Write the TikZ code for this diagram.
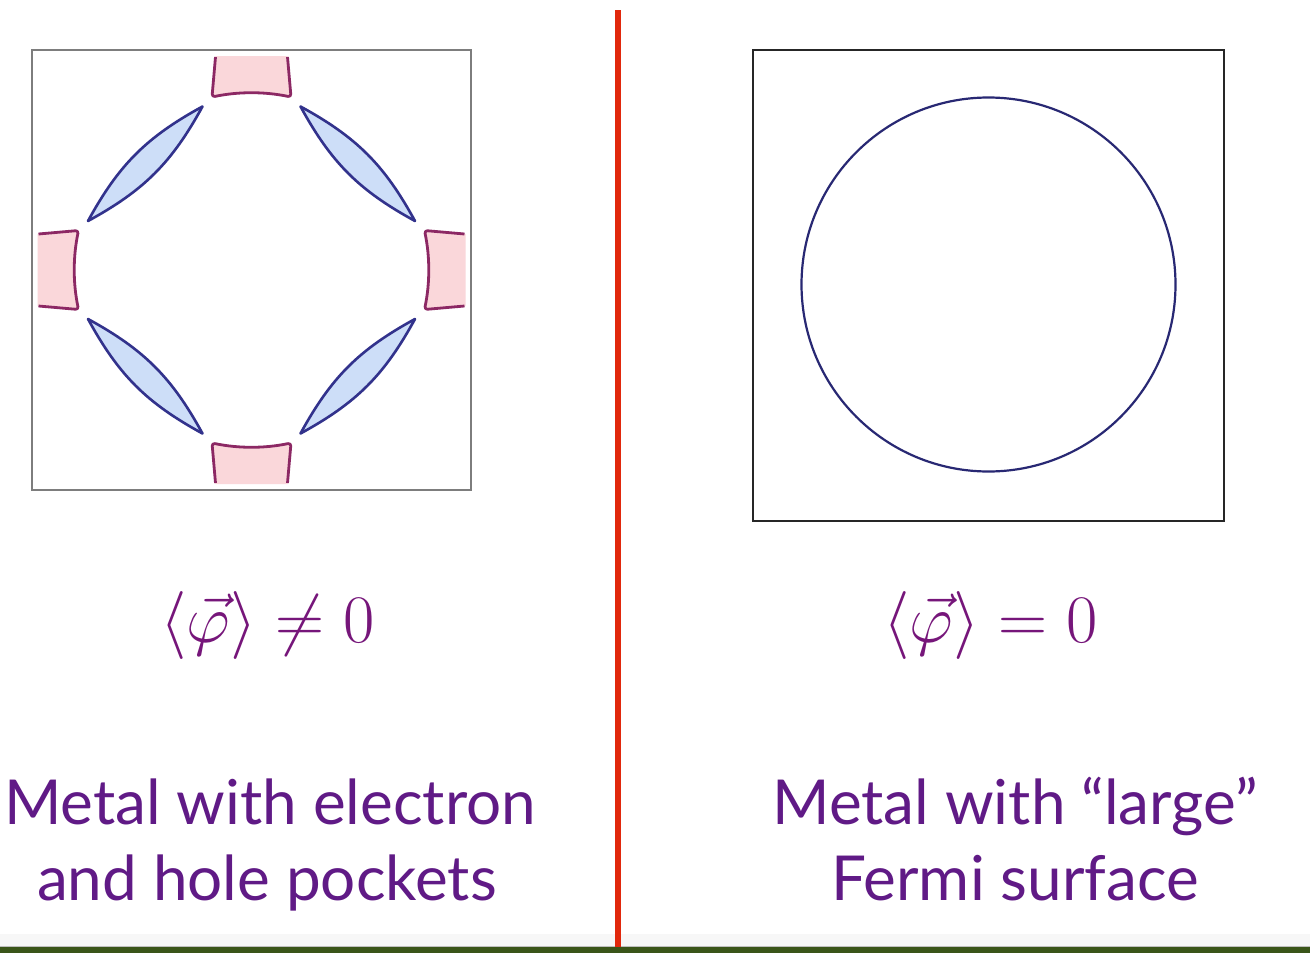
\documentclass[tikz,border=0pt]{standalone}
\usepackage{fontspec}
\setmainfont{Lato}
\usepackage{amsmath}
\usepackage{graphicx}
\definecolor{txtpurple}{RGB}{96,26,134}
\definecolor{mathpurple}{RGB}{118,22,122}
\definecolor{holefill}{RGB}{250,215,218}
\definecolor{holeline}{RGB}{140,40,100}
\definecolor{elecfill}{RGB}{205,222,248}
\definecolor{elecline}{RGB}{50,50,140}
\definecolor{circline}{RGB}{40,40,115}
\definecolor{boxgray}{RGB}{125,125,125}
\definecolor{redline}{RGB}{225,40,12}
\definecolor{greenbar}{RGB}{58,85,25}
\definecolor{graybase}{RGB}{247,247,247}
\tikzset{
  holepocket/.style={draw=holeline, line width=1.4pt, line join=round, rounded corners=1.5pt},
  holefillst/.style={fill=holefill},
  elecpocket/.style={draw=elecline, fill=elecfill, line width=1.3pt, line join=round},
  labeltext/.style={text=txtpurple, font=\fontsize{31}{36}\selectfont, anchor=base, inner sep=0pt},
  mathtext/.style={text=mathpurple, font=\fontsize{24.88}{30}\selectfont, anchor=base, inner sep=0pt},
}
\begin{document}
\begin{tikzpicture}[x=0.5pt,y=-0.5pt]
\useasboundingbox (0,0) rectangle (1310,953);
\fill[white] (0,0) rectangle (1310,953);
% bottom band
\fill[graybase] (0,934) rectangle (1310,946);
\fill[greenbar] (0,947) rectangle (1310,953);
\draw[black!25, line width=0.5pt] (0,946.5) -- (1310,946.5);
% red divider
\coordinate (rtop) at (618,10);
\coordinate (rbot) at (618,947);
\draw[redline, line width=3.3pt] (rtop) -- (rbot);
% left box
\node[draw=boxgray, line width=0.7pt, minimum width=219.5pt, minimum height=220pt, inner sep=0pt] (lbox) at (251.5,270) {};
% hole and electron pockets
\foreach \r in {0,90,180,270}{
  \begin{scope}[shift={(251.5,270)}, rotate=\r]
    \fill[holefillst] (-36,-214) -- (-39.5,-173) .. controls (-13,-178.5) and (13,-178.5) .. (39.5,-173) -- (36,-214) -- cycle;
    \draw[holepocket] (-36,-213) -- (-39.5,-173) .. controls (-13,-178.5) and (13,-178.5) .. (39.5,-173) -- (36,-213);
    \draw[elecpocket] (-163.5,-49) .. controls (-107.26,-79.78) and (-79.78,-107.26) .. (-49,-163.5)
                      .. controls (-105.24,-132.72) and (-132.72,-105.24) .. (-163.5,-49) -- cycle;
  \end{scope}
}
% right box
\node[draw=black!85, line width=0.6pt, minimum width=235.5pt, minimum height=235.5pt, inner sep=0pt] (rbox) at (988.5,285.5) {};
\node[draw=circline, line width=1.1pt, circle, minimum size=187pt, inner sep=0pt] (fermi) at (988.5,284.5) {};
% math
\node[mathtext] (mleft) at (267.5,642) {\scalebox{1.3665}{$\langle\vec{\varphi}\rangle \neq 0$}};
\node[mathtext] (mright) at (990.5,642) {\scalebox{1.3665}{$\langle\vec{\varphi}\rangle = 0$}};
% labels
\node[labeltext] (l1) at (270,824) {Metal with electron};
\node[labeltext] (l2) at (267,900) {and hole pockets};
\node[labeltext] (r1) at (1015,824) {Metal with “large”};
\node[labeltext] (r2) at (1015,900) {Fermi surface};
\end{tikzpicture}
\end{document}
